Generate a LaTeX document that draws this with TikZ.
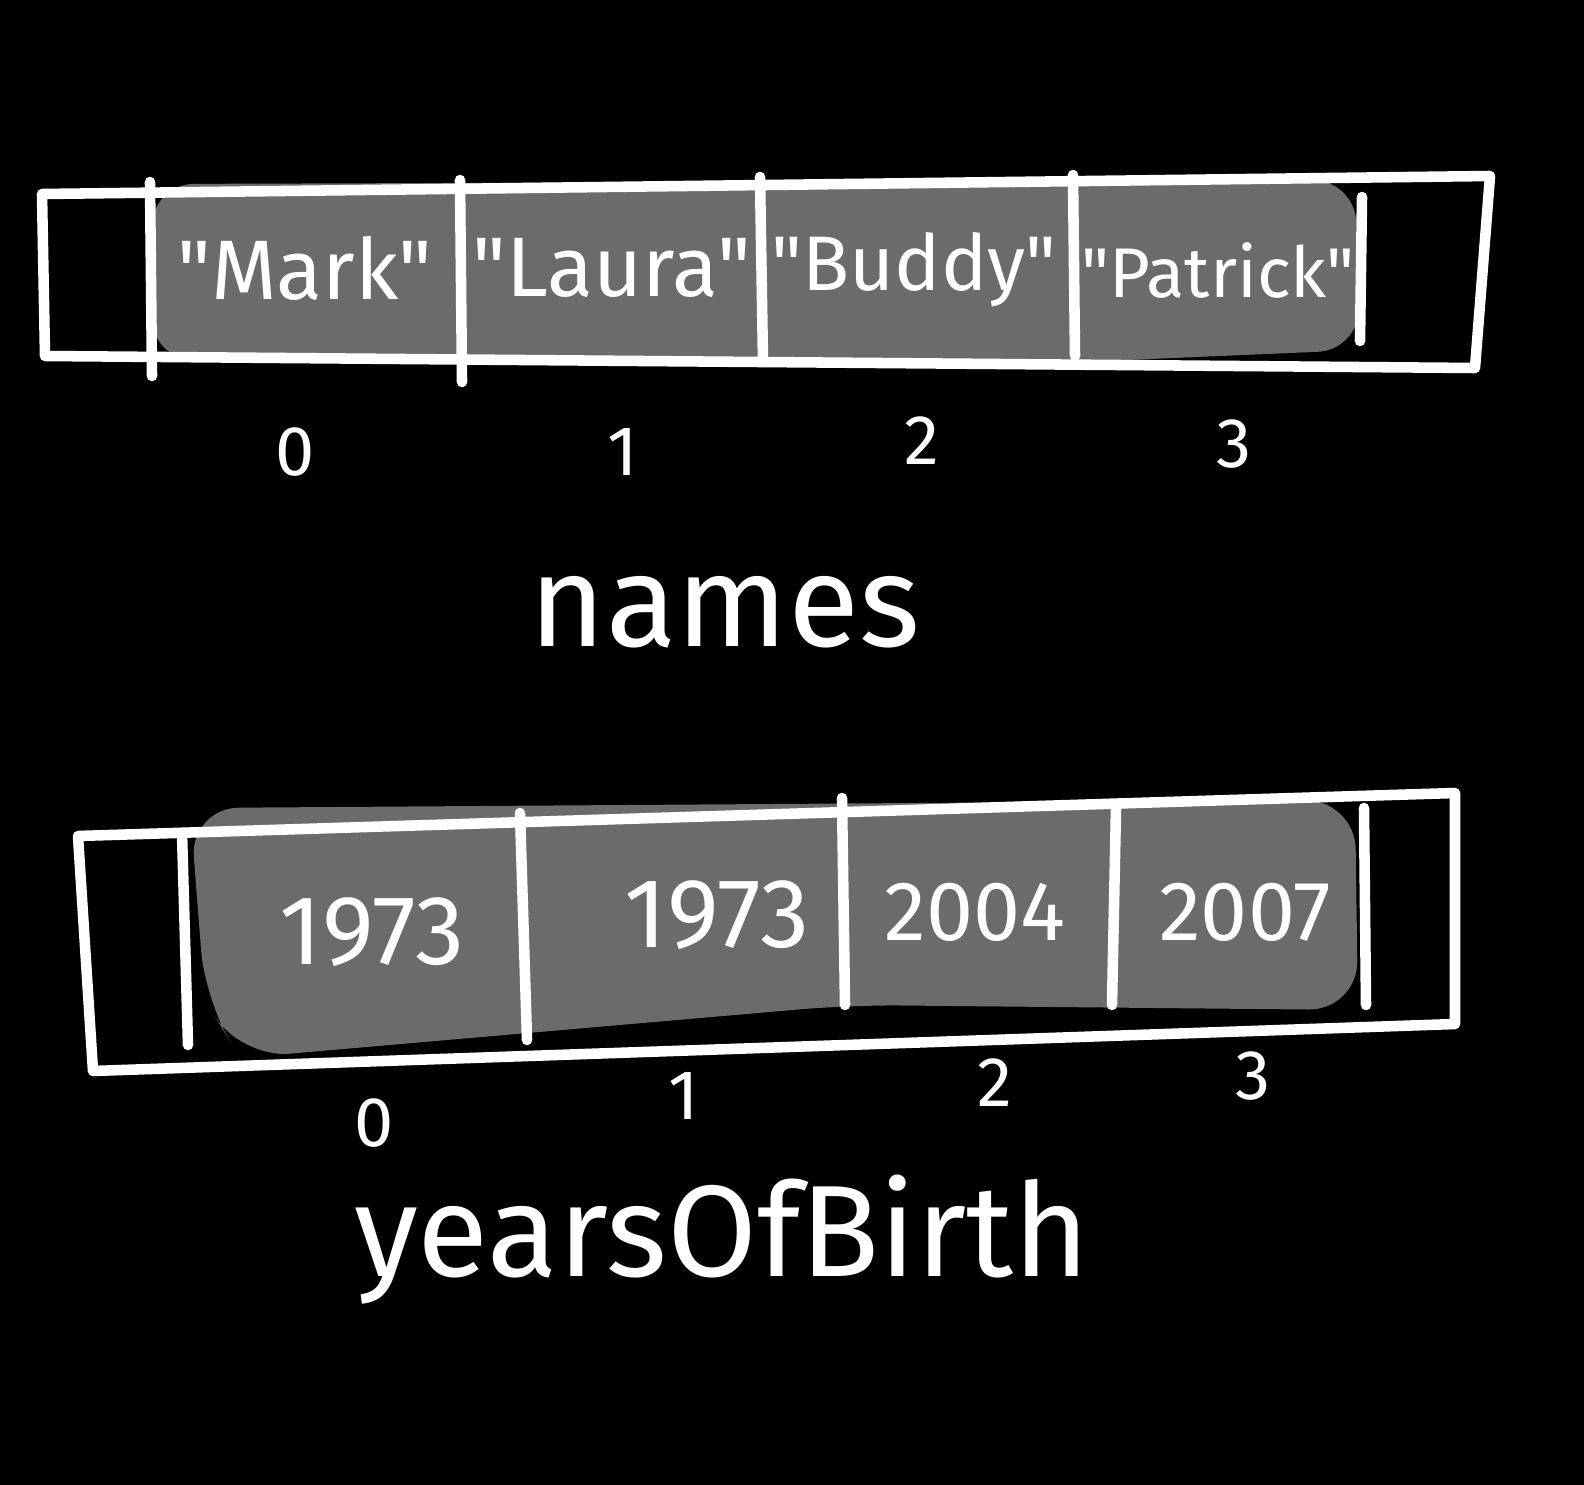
\documentclass[tikz,border=0pt]{standalone}
\usepackage{fontspec}
\setmainfont{Fira Sans}[Ligatures=TeXOff]
\usetikzlibrary{positioning}
\definecolor{cellgray}{HTML}{6B6B6B}
\newcommand{\qq}[1]{\symbol{34}#1\symbol{34}}

\begin{document}
\begin{tikzpicture}[x=0.01cm, y=-0.01cm, line cap=round, line join=round]
      \tikzset{pen/.style={draw=white, line width=3pt},
        val/.style={text=white, font=\fontsize{24}{24}\selectfont},
        year/.style={text=white, font=\fontsize{28}{28}\selectfont},
        idx/.style={text=white, font=\fontsize{20}{20}\selectfont},
        arrname/.style={text=white, font=\fontsize{37}{37}\selectfont}}
      \fill[black] (0,0) rectangle (1584,1485);
      \useasboundingbox (0,0) rectangle (1584,1485);
      % names
      \fill[cellgray, rounded corners=12pt] (152,184) -- (1355,180) -- (1360,350) -- (1080,362) -- (152,360) -- cycle;
      \coordinate (ntl) at (42,194);
      \coordinate (ntr) at (1490,176);
      \coordinate (nbr) at (1475,368);
      \coordinate (nbl) at (45,356);
      \draw[pen] (ntl) -- (ntr) -- (nbr) -- (nbl) -- cycle;
      \draw[pen] (150,182) -- (152,376);
      \draw[pen] (460,180) -- (462,382);
      \draw[pen] (760,177) -- (763,362);
      \draw[pen] (1073,175) -- (1075,356);
      \draw[pen] (1362,197) -- (1360,341);
      \node[val] (mark) at (305,268) {\qq{Mark}};
      \node[val] (laura) at (612,268) {\qq{Laura}};
      \node[val, font=\fontsize{22}{22}\selectfont] (buddy) at (914,270) {\qq{Buddy}};
      \node[val, font=\fontsize{20}{20}\selectfont] (patrick) at (1218,270) {\qq{Patrick}};
      \node[idx] (n0) at (295,452) {0};
      \node[idx] (n1) at (623,452) {1};
      \node[idx] (n2) at (922,441) {2};
      \node[idx] (n3) at (1234,444) {3};
      \node[arrname] (names) at (725,612) {names};
      % yearsOfBirth
      \fill[cellgray, rounded corners=14pt] (190,808) -- (1355,800) -- (1358,1010) -- (850,1005) -- (240,1058) -- (205,1000) -- cycle;
      \coordinate (ytl) at (78,836);
      \coordinate (ytr) at (1455,793);
      \coordinate (ybr) at (1455,1024);
      \coordinate (ybl) at (93,1071);
      \draw[pen] (ytl) -- (ytr) -- (ybr) -- (ybl) -- cycle;
      \draw[pen] (182,833) -- (188,1045);
      \draw[pen] (520,813) -- (527,1040);
      \draw[pen] (842,798) -- (845,1005);
      \draw[pen] (1116,808) -- (1112,1005);
      \draw[pen] (1364,808) -- (1366,1005);
      \node[year] (y0) at (372,932) {1973};
      \node[year] (y1) at (717,915) {1973};
      \node[year, font=\fontsize{24}{24}\selectfont] (y2) at (975,912) {2004};
      \node[year, font=\fontsize{24}{24}\selectfont] (y3) at (1245,912) {2007};
      \node[idx] (m0) at (374,1123) {0};
      \node[idx] (m1) at (684,1096) {1};
      \node[idx] (m2) at (995,1083) {2};
      \node[idx] (m3) at (1253,1076) {3};
      \node[arrname] (years) at (722,1240) {yearsOfBirth};
\end{tikzpicture}
\end{document}
